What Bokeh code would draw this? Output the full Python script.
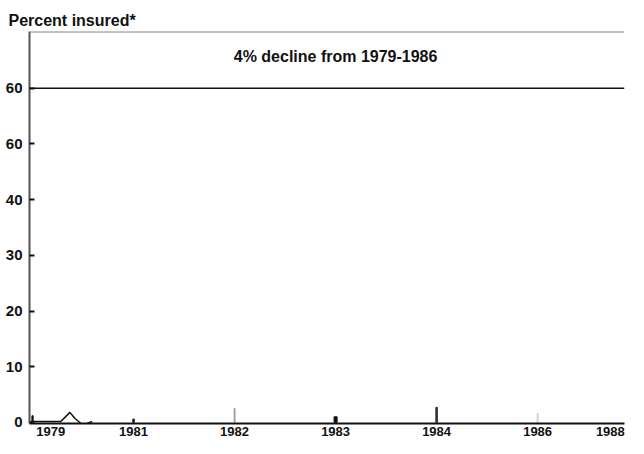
from bokeh.plotting import figure
from bokeh.models import Range1d, FixedTicker, Span, Label
from bokeh.embed import file_html
from bokeh.resources import INLINE

# --- data ---
years = ["1979", "1981", "1982", "1983", "1984", "1986", "1988"]
year_pos = [0.18, 1, 2, 3, 4, 5, 5.72]          # tick label positions
bar_x = [0, 1, 2, 3, 4, 5]                      # 1979,1981,1982,1983,1984,1986
bar_val = [1.2, 0.6, 2.5, 1.0, 2.7, 1.6]
bar_w = [0.012, 0.015, 0.008, 0.03, 0.015, 0.008]
bar_col = ["#111111", "#222222", "#999999", "#111111", "#333333", "#cccccc"]
trace_x = [-0.02, 0.1, 0.28, 0.37, 0.42, 0.5, 0.59]
trace_y = [0.15, 0.15, 0.15, 1.8, 0.7, -0.5, 0.15]
y_ticks = [0, 10, 20, 30, 40, 50, 60]
y_tick_labels = {50: "60"}
ref_level = 60
title_text = "Percent insured*"
note_text = "4% decline from 1979-1986"

p = figure(width=628, height=438, output_backend="svg", toolbar_location=None,
           x_range=Range1d(-0.03, 5.86), y_range=Range1d(-0.2, 70.2),
           min_border_left=29, min_border_right=4, min_border_top=31,
           min_border_bottom=12)
p.outline_line_color = None
p.grid.grid_line_color = None
p.background_fill_color = "white"

p.title.text = title_text
p.title.text_font = "Liberation Sans"
p.title.text_font_size = "16px"
p.title.text_font_style = "bold"
p.title.offset = -21
p.title.standoff = 6
p.title.text_color = "#111111"

# y axis
ya = p.yaxis[0]
ya.ticker = FixedTicker(ticks=y_ticks)
ya.major_label_overrides = y_tick_labels
ya.axis_line_color = "#555555"
ya.axis_line_width = 2
ya.major_tick_in = 5
ya.major_tick_out = 0
ya.major_tick_line_color = "#111111"
ya.major_tick_line_width = 2
ya.minor_tick_line_color = None
ya.major_label_standoff = 7
ya.major_label_text_font = "Liberation Sans"
ya.major_label_text_font_style = "bold"
ya.major_label_text_font_size = "15px"
ya.major_label_text_color = "#111111"

# x axis
xa = p.xaxis[0]
xa.ticker = FixedTicker(ticks=year_pos)
xa.major_label_overrides = {pos: lab for pos, lab in zip(year_pos, years)}
xa.axis_line_color = "#111111"
xa.axis_line_width = 2
xa.major_tick_in = 0
xa.major_tick_out = 0
xa.major_tick_line_color = None
xa.minor_tick_line_color = None
xa.major_label_standoff = 3
xa.axis_label_standoff = 0
xa.major_label_text_font = "Liberation Sans"
xa.major_label_text_font_style = "bold"
xa.major_label_text_font_size = "13px"
xa.major_label_text_color = "#111111"

# top border line and 60% reference line
p.add_layout(Span(location=70.2, dimension="width", line_color="#888888", line_width=2))
p.add_layout(Span(location=ref_level, dimension="width", line_color="#111111", line_width=1.5))

# small marks
p.vbar(x=bar_x, top=bar_val, bottom=0, width=bar_w, color=bar_col)
p.line(trace_x, trace_y, line_color="#111111", line_width=1.5)

p.add_layout(Label(x=3.0, y=65.7, text=note_text, text_align="center",
                   text_baseline="middle", text_font="Liberation Sans",
                   text_font_style="bold", text_font_size="16px",
                   text_color="#111111"))

open("out.html", "w").write(file_html(p, INLINE))
